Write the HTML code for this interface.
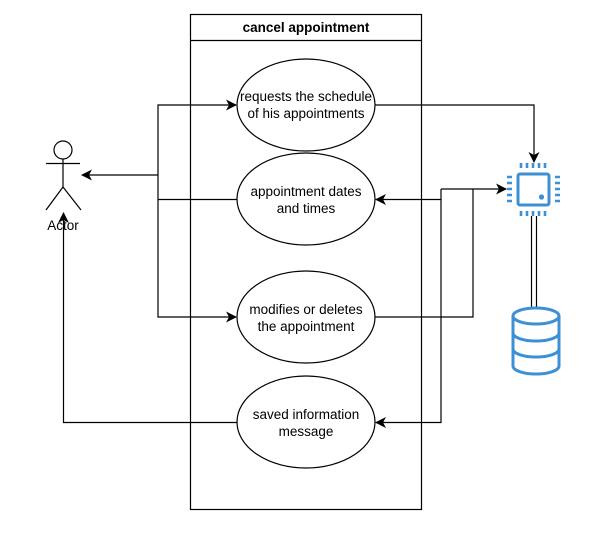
<!DOCTYPE html>
<html><head><style>body{margin:0;background:#fff}svg{display:block}text{font-family:"Liberation Sans",sans-serif;font-size:13.5px;fill:#000}</style></head>
<body>
<svg width="593" height="546" viewBox="0 0 593 546" xmlns="http://www.w3.org/2000/svg">
<defs>
<marker id="a" markerWidth="11" markerHeight="11" refX="10" refY="5.5" orient="auto" markerUnits="userSpaceOnUse">
<path d="M0,0 L11,5.5 L0,11 L3,5.5 Z" fill="#000"/>
</marker>
</defs>
<g fill="none" stroke="#000" stroke-width="1.2">
<rect x="190.5" y="14.5" width="231" height="495"/>
<line x1="190" y1="40.5" x2="421" y2="40.5"/>
<ellipse cx="306" cy="105" rx="69" ry="46"/>
<ellipse cx="306" cy="199" rx="69" ry="46"/>
<ellipse cx="306" cy="317" rx="69" ry="46"/>
<ellipse cx="306" cy="422" rx="69" ry="46"/>
<circle cx="63" cy="150" r="9"/>
<line x1="46" y1="163.5" x2="80" y2="163.5"/>
<line x1="63" y1="159" x2="63" y2="187"/>
<polyline points="46,210 63,187 81,210"/>
<polyline points="158,175 158,105 236,105" marker-end="url(#a)"/>
<polyline points="158,175 158,317 236,317" marker-end="url(#a)"/>
<line x1="158" y1="175" x2="82" y2="175" marker-end="url(#a)"/>
<line x1="237" y1="199.5" x2="158" y2="199.5"/>
<polyline points="237,422.5 63.5,422.5 63.5,213" marker-end="url(#a)"/>
<polyline points="375,105 534,105 534,162" marker-end="url(#a)"/>
<polyline points="375,317 473,317 473,189"/>
<line x1="441" y1="189" x2="506" y2="189" marker-end="url(#a)"/>
<polyline points="441,189 441,199.5 376,199.5" marker-end="url(#a)"/>
<polyline points="441,199 441,422.5 376,422.5" marker-end="url(#a)"/>
<line x1="531.5" y1="216" x2="531.5" y2="308"/>
<line x1="536.5" y1="216" x2="536.5" y2="308"/>
</g>
<g fill="none" stroke="#3d8fd6" stroke-width="3">
<rect x="518" y="174" width="31" height="31" rx="2"/>
<path d="M521,163v5M527,163v5M533,163v5M539,163v5M545,163v5M521,211v5M527,211v5M533,211v5M539,211v5M545,211v5M507,177h5M507,183h5M507,189h5M507,195h5M507,201h5M555,177h5M555,183h5M555,189h5M555,195h5M555,201h5" stroke-width="2.6"/>
<path d="M513,316 v50 a23,8 0 0 0 46,0 v-50"/>
<ellipse cx="536" cy="316" rx="23" ry="8" fill="#fff"/>
<path d="M513,333 a23,8 0 0 0 46,0 M513,349 a23,8 0 0 0 46,0"/>
</g>
<circle cx="541.5" cy="197" r="2.6" fill="#3d8fd6"/>
<text x="306" y="32" text-anchor="middle" font-weight="bold">cancel appointment</text>
<text x="306" y="101" text-anchor="middle">requests the schedule</text>
<text x="306" y="118" text-anchor="middle">of his appointments</text>
<text x="306" y="196" text-anchor="middle">appointment dates</text>
<text x="306" y="213" text-anchor="middle">and times</text>
<text x="306" y="314" text-anchor="middle">modifies or deletes</text>
<text x="306" y="331" text-anchor="middle">the appointment</text>
<text x="306" y="419" text-anchor="middle">saved information</text>
<text x="306" y="436" text-anchor="middle">message</text>
<text x="63" y="230" text-anchor="middle">Actor</text>
</svg>
</body></html>
